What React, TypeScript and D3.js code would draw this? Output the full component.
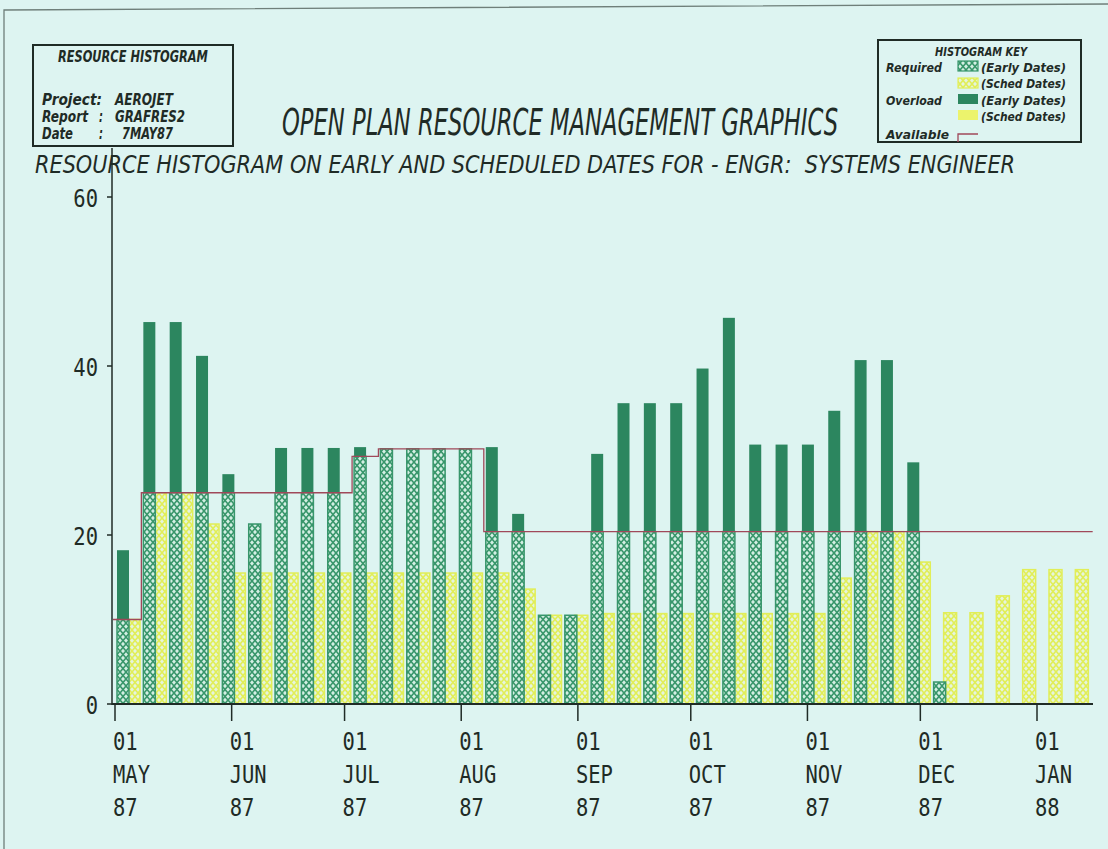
import React, { useLayoutEffect, useRef, useState } from "react";
import * as d3 from "d3";

// Week start dates (one bar pair per week)
const weekStarts = [
  "1987-05-01", "1987-05-08", "1987-05-15", "1987-05-22", "1987-05-29",
  "1987-06-05", "1987-06-12", "1987-06-19", "1987-06-26",
  "1987-07-03", "1987-07-10", "1987-07-17", "1987-07-24", "1987-07-31",
  "1987-08-07", "1987-08-14", "1987-08-21", "1987-08-28",
  "1987-09-04", "1987-09-11", "1987-09-18", "1987-09-25",
  "1987-10-02", "1987-10-09", "1987-10-16", "1987-10-23", "1987-10-30",
  "1987-11-06", "1987-11-13", "1987-11-20", "1987-11-27",
  "1987-12-04", "1987-12-11", "1987-12-18", "1987-12-25",
  "1988-01-01", "1988-01-08",
];
const periodEnd = "1988-01-15";

// Resource load on early dates
const earlyLoad = [
  18.2, 45.2, 45.2, 41.2, 27.2, 21.3, 30.3, 30.3, 30.3, 30.4, 30.2, 30.2, 30.2,
  30.2, 30.4, 22.5, 10.5, 10.5, 29.6, 35.6, 35.6, 35.6, 39.7, 45.7, 30.7, 30.7,
  30.7, 34.7, 40.7, 40.7, 28.6, 2.6, 0, 0, 0, 0, 0,
];

// Resource load on scheduled dates
const schedLoad = [
  10, 25, 25, 21.3, 15.5, 15.5, 15.5, 15.5, 15.5, 15.5, 15.5, 15.5, 15.5, 15.5,
  15.5, 13.6, 10.5, 10.5, 10.7, 10.7, 10.7, 10.7, 10.7, 10.7, 10.7, 10.7, 10.7,
  14.9, 20.4, 20.4, 16.8, 10.8, 10.8, 12.8, 15.9, 15.9, 15.9,
];

// Available resource level per week
const available = [
  10, 25, 25, 25, 25, 25, 25, 25, 25, 29.3, 30.2, 30.2, 30.2, 30.2, 20.4, 20.4,
  20.4, 20.4, 20.4, 20.4, 20.4, 20.4, 20.4, 20.4, 20.4, 20.4, 20.4, 20.4, 20.4,
  20.4, 20.4, 20.4, 20.4, 20.4, 20.4, 20.4, 20.4,
];

const monthTicks = [
  "1987-05-01", "1987-06-01", "1987-07-01", "1987-08-01", "1987-09-01",
  "1987-10-01", "1987-11-01", "1987-12-01", "1988-01-01",
];
const yTicks = [0, 20, 40, 60];

const W = 1108;
const H = 849;
const BG = "#ddf4f1";
const INK = "#1f2b26";
const DARK_GREEN = "#2c865f";
const HATCH_GREEN = "#38966b";
const HATCH_YELLOW = "#e1ee58";
const SOLID_YELLOW = "#ecf36c";
const AVAIL = "#a0485a";

const parse = d3.timeParse("%Y-%m-%d");
const fmtDay = d3.timeFormat("%d");
const fmtMon = d3.timeFormat("%b");
const fmtYr = d3.timeFormat("%y");

const x = d3
  .scaleTime()
  .domain([parse("1987-05-01")!, parse("1988-01-01")!])
  .range([115, 1037]);
const y = d3.scaleLinear().domain([0, 60]).range([704, 197]);

const MONO = "'DejaVu Sans Mono', monospace";
const SANS = "'DejaVu Sans', sans-serif";

function Label({ x: tx, y: ty, text, anchor = "start", sx = 0.82, size = 25 }: any) {
  return (
    <text
      transform={`translate(${tx},${ty}) scale(${sx},1)`}
      textAnchor={anchor}
      fontFamily={MONO}
      fontSize={size}
      fill={INK}
    >
      {text}
    </text>
  );
}

// Text squeezed horizontally to a given width
function FitText({ x: tx, y: ty, width, size, bold = false, children }: any) {
  const ref = useRef<SVGTextElement>(null);
  const [s, setS] = useState(0.7);
  useLayoutEffect(() => {
    const n = ref.current ? ref.current.getComputedTextLength() : 0;
    if (n > 0) setS(width / n);
  }, [width, children]);
  return (
    <text
      ref={ref}
      transform={`translate(${tx},${ty}) scale(${s},1)`}
      fontFamily={SANS}
      fontWeight={bold ? "bold" : "normal"}
      fontStyle="italic"
      fontSize={size}
      fill={INK}
      style={{ whiteSpace: "pre" }}
    >
      {children}
    </text>
  );
}

export default function App() {
  const dates = weekStarts.map((d) => parse(d)!);
  const gW = 12;
  const yW = 13;

  const availPts: [number, number][] = dates.map((d, i) => [x(d), y(available[i])]);
  availPts[0][0] = 113;
  availPts.push([x(parse(periodEnd)!) + 3, y(available[available.length - 1])]);
  const availPath = d3.line().curve(d3.curveStepAfter)(availPts) || "";

  return (
    <svg
      width={W}
      height={H}
      style={{ position: "absolute", left: 0, top: 0, background: BG }}
    >
      <defs>
        <pattern id="hatchG" width="6" height="7" patternUnits="userSpaceOnUse">
          <rect width="6" height="7" fill="#d3efe3" />
          <path d="M0,0 L6,7 M6,0 L0,7" stroke={HATCH_GREEN} strokeWidth="1.6" />
        </pattern>
        <pattern id="hatchY" width="6" height="7" patternUnits="userSpaceOnUse">
          <rect width="6" height="7" fill="#e6f5dc" />
          <path d="M0,0 L6,7 M6,0 L0,7" stroke={HATCH_YELLOW} strokeWidth="1.6" />
        </pattern>
      </defs>
      <rect width={W} height={H} fill={BG} />

      {/* sheet edge */}
      <path d="M4,849 L4,10 L1108,4" fill="none" stroke="#6f7f7a" strokeWidth="1.3" />

      {/* header box */}
      <rect x={33} y={45} width={200} height={101} fill="none" stroke={INK} strokeWidth="2" />
      <FitText x={58} y={62} width={150} size={15} bold>RESOURCE HISTOGRAM</FitText>
      <FitText x={42} y={105} width={60} size={15} bold>Project:</FitText>
      <FitText x={115} y={105} width={58} size={15} bold>AEROJET</FitText>
      <FitText x={42} y={122} width={46} size={15} bold>Report</FitText>
      <FitText x={99} y={122} width={4} size={15} bold>:</FitText>
      <FitText x={115} y={122} width={70} size={15} bold>GRAFRES2</FitText>
      <FitText x={42} y={139} width={31} size={15} bold>Date</FitText>
      <FitText x={99} y={139} width={4} size={15} bold>:</FitText>
      <FitText x={122} y={139} width={51} size={15} bold>7MAY87</FitText>

      {/* key */}
      <rect x={878} y={40} width={203} height={102} fill="none" stroke={INK} strokeWidth="2" />
      <FitText x={935} y={56} width={92} size={12} bold>HISTOGRAM KEY</FitText>
      <FitText x={886} y={72} width={56} size={12} bold>Required</FitText>
      <rect x={958} y={61} width={20} height={10} fill="url(#hatchG)" stroke={HATCH_GREEN} strokeWidth="1.2" />
      <FitText x={981} y={72} width={85} size={12} bold>(Early Dates)</FitText>
      <rect x={958} y={78} width={20} height={10} fill="url(#hatchY)" stroke={HATCH_YELLOW} strokeWidth="1.2" />
      <FitText x={981} y={88} width={85} size={12} bold>(Sched Dates)</FitText>
      <FitText x={886} y={105} width={56} size={12} bold>Overload</FitText>
      <rect x={958} y={94} width={20} height={10} fill={DARK_GREEN} />
      <FitText x={981} y={105} width={85} size={12} bold>(Early Dates)</FitText>
      <rect x={958} y={110} width={20} height={10} fill={SOLID_YELLOW} />
      <FitText x={981} y={121} width={85} size={12} bold>(Sched Dates)</FitText>
      <FitText x={886} y={139} width={63} size={12} bold>Available</FitText>
      <path d="M958,142 L958,134 L978,134" fill="none" stroke={AVAIL} strokeWidth="1.3" />

      {/* titles */}
      <FitText x={282} y={135} width={556} size={37}>
        OPEN PLAN RESOURCE MANAGEMENT GRAPHICS
      </FitText>
      <FitText x={35} y={173} width={980} size={25}>
        RESOURCE HISTOGRAM ON EARLY AND SCHEDULED DATES FOR - ENGR:  SYSTEMS ENGINEER
      </FitText>

      {/* scheduled-date bars */}
      {dates.map((d, i) => {
        const v = schedLoad[i];
        if (v <= 0) return null;
        const req = Math.min(v, available[i]);
        const over = v - req;
        const bx = x(d) + 12;
        return (
          <g key={"s" + i}>
            <rect x={bx} y={y(req)} width={yW} height={y(0) - y(req)} fill="url(#hatchY)" stroke={HATCH_YELLOW} strokeWidth="1.5" />
            {over > 0 && (
              <rect x={bx} y={y(v)} width={yW} height={y(req) - y(v)} fill={SOLID_YELLOW} />
            )}
          </g>
        );
      })}

      {/* early-date bars */}
      {dates.map((d, i) => {
        const v = earlyLoad[i];
        if (v <= 0) return null;
        const req = Math.min(v, available[i]);
        const over = v - req;
        const bx = x(d) + 2;
        return (
          <g key={"e" + i}>
            <rect x={bx} y={y(req)} width={gW} height={y(0) - y(req)} fill="url(#hatchG)" stroke={HATCH_GREEN} strokeWidth="1.5" />
            {over > 0 && (
              <rect x={bx} y={y(v)} width={gW} height={y(req) - y(v)} fill={DARK_GREEN} />
            )}
          </g>
        );
      })}

      {/* available level */}
      <path d={availPath} fill="none" stroke={AVAIL} strokeWidth="1.3" />

      {/* y axis */}
      <line x1={112} x2={112} y1={148} y2={705} stroke={INK} strokeWidth="1.5" />
      {yTicks.map((t) => (
        <g key={"y" + t}>
          <line x1={107} x2={112} y1={y(t)} y2={y(t)} stroke={INK} strokeWidth="1.5" />
          <Label x={98} y={y(t) + 10} text={String(t)} anchor="end" />
        </g>
      ))}

      {/* x axis */}
      <line x1={112} x2={1093} y1={704} y2={704} stroke={INK} strokeWidth="1.8" />
      {monthTicks.map((m) => {
        const d = parse(m)!;
        const tx = x(d);
        return (
          <g key={m}>
            <line x1={tx} x2={tx} y1={704} y2={721} stroke={INK} strokeWidth="1.5" />
            <Label x={tx - 2} y={750} text={fmtDay(d)} />
            <Label x={tx - 2} y={783} text={fmtMon(d).toUpperCase()} />
            <Label x={tx - 2} y={816} text={fmtYr(d)} />
          </g>
        );
      })}
    </svg>
  );
}
